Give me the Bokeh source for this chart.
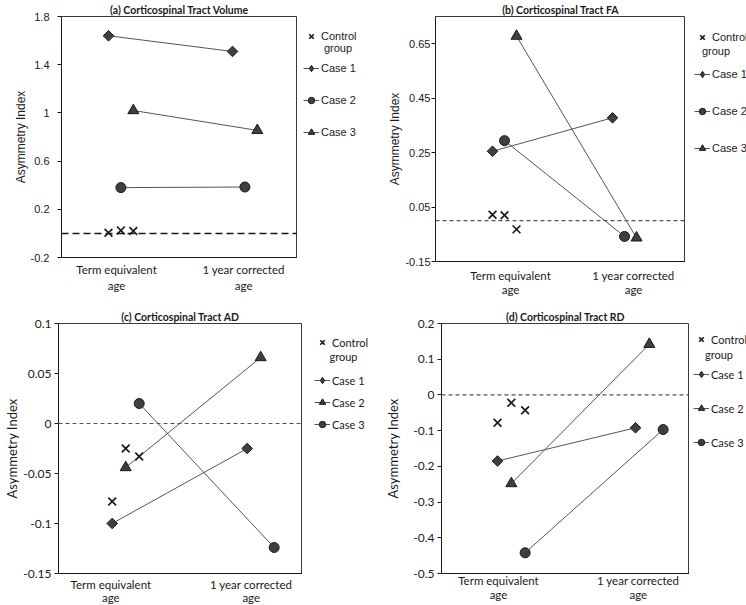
import math
from bokeh.plotting import figure
from bokeh.models import Span, Legend, LegendItem, FixedTicker, Label
from bokeh.layouts import column, row
from bokeh.embed import file_html
from bokeh.resources import INLINE

# ---------------- data ----------------
timepoint_labels = ["Term equivalent\nage", "1 year corrected\nage"]
case_names = ["Case 1", "Case 2", "Case 3"]
control_label = "Control"
control_label_2 = "group"
case1_x = [1.0, 2.0]
case2_x = [1.1, 2.1]
case3_x = [1.2, 2.2]
control_x = [1.0, 1.1, 1.2]

# (a) Volume
vol_case1 = [1.64, 1.51]
vol_case2 = [0.38, 0.385]
vol_case3 = [1.02, 0.855]
vol_control = [0.005, 0.025, 0.02]
vol_ticks = [-0.2, 0.2, 0.6, 1.0, 1.4, 1.8]
vol_tick_labels = ["-0.2", "0.2", "0.6", "1", "1.4", "1.8"]

# (b) FA
fa_case1 = [0.255, 0.378]
fa_case2 = [0.294, -0.058]
fa_case3 = [0.678, -0.063]
fa_control = [0.022, 0.02, -0.032]
fa_ticks = [-0.15, 0.05, 0.25, 0.45, 0.65]
fa_tick_labels = ["-0.15", "0.05", "0.25", "0.45", "0.65"]

# (c) AD
ad_case1 = [-0.100, -0.025]
ad_case2 = [-0.044, 0.066]
ad_case3 = [0.020, -0.124]
ad_control = [-0.078, -0.025, -0.033]
ad_ticks = [-0.15, -0.1, -0.05, 0.0, 0.05, 0.1]
ad_tick_labels = ["-0.15", "-0.1", "-0.05", "0", "0.05", "0.1"]

# (d) RD
rd_case1 = [-0.185, -0.092]
rd_case2 = [-0.248, 0.142]
rd_case3 = [-0.442, -0.097]
rd_control = [-0.078, -0.022, -0.043]
rd_ticks = [-0.5, -0.4, -0.3, -0.2, -0.1, 0.0, 0.1, 0.2]
rd_tick_labels = ["-0.5", "-0.4", "-0.3", "-0.2", "-0.1", "0", "0.1", "0.2"]

# ---------------- styles ----------------
ARIAL = "Liberation Sans"
CALIBRI = "Lato"
TXT = "#1a1a1a"
FILL = "#3f3f3f"
EDGE = "#1a1a1a"
LINK = "#555555"

DIAMOND = dict(marker="square", size=7.5, angle=math.pi / 4, legend_marker="diamond")
CIRCLE = dict(marker="circle", size=10, angle=0.0, legend_marker="circle")
TRIANGLE = dict(marker="triangle", size=11, angle=0.0, legend_marker="triangle")
CROSS = dict(marker="x", size=11, line_width=1.7)
GLYPH = 16  # legend glyph box


def draw_series(p, cases, markers, ctrl, swatch=False):
    out = []
    for (xs, ys), mk in zip(cases, markers):
        ln = p.line(xs, ys, line_color=LINK, line_width=1)
        sc = p.scatter(xs, ys, marker=mk["legend_marker"] if swatch else mk["marker"],
                       size=mk["size"], angle=0.0 if swatch else mk["angle"],
                       fill_color=FILL, line_color=EDGE, line_width=1)
        out.append((ln, sc))
    cx = p.scatter(control_x, ctrl, marker=CROSS["marker"], size=CROSS["size"],
                   line_color=EDGE, line_width=CROSS["line_width"])
    return out, cx


def build(title, cases, markers, ctrl, yr, yticks, ylabels, xr, xticks, g):
    p = figure(frame_width=g["fw"], frame_height=g["fh"], x_range=xr, y_range=yr,
               output_backend="svg", toolbar_location=None,
               min_border_left=g["bl"], min_border_right=0,
               min_border_top=g["bt"], min_border_bottom=g["bb"])
    p.title.text = title
    p.title.align = "center"
    p.title.text_font = CALIBRI
    p.title.text_font_style = "bold"
    p.title.text_font_size = "10.5px"
    p.title.text_color = TXT
    p.title.standoff = 1
    p.outline_line_color = "#3a3a3a"
    p.outline_line_width = 1
    p.xgrid.visible = False
    p.ygrid.visible = False

    yax = p.yaxis[0]
    yax.ticker = FixedTicker(ticks=yticks)
    yax.major_label_overrides = {t: l for t, l in zip(yticks, ylabels)}
    yax.minor_tick_line_color = None
    yax.major_tick_in = 0
    yax.major_tick_out = 4
    yax.major_tick_line_color = "#1a1a1a"
    yax.axis_line_color = "#1a1a1a"
    yax.major_label_text_font = g["yfont"]
    yax.major_label_text_font_size = g["yfs"]
    yax.major_label_text_color = TXT
    yax.major_label_standoff = g["ystand"]
    yax.axis_label = "Asymmetry Index"
    yax.axis_label_text_font = g["yfont"]
    yax.axis_label_text_font_style = "normal"
    yax.axis_label_text_font_size = g["alfs"]
    yax.axis_label_text_color = TXT
    yax.axis_label_standoff = g["alstand"]

    xax = p.xaxis[0]
    xax.ticker = FixedTicker(ticks=xticks)
    xax.major_label_overrides = {t: l for t, l in zip(xticks, timepoint_labels)}
    xax.minor_tick_line_color = None
    xax.major_tick_line_color = None
    xax.major_tick_out = 0
    xax.major_tick_in = 0
    xax.axis_line_color = "#1a1a1a"
    xax.major_label_text_font = CALIBRI
    xax.major_label_text_font_size = "11.5px"
    xax.major_label_text_line_height = g["xlh"]
    xax.major_label_text_color = TXT
    xax.major_label_standoff = g["xstand"]

    p.add_layout(Span(location=0, dimension="width", line_color=g["dash_c"],
                      line_width=g["dash_w"], line_dash=g["dash"]))
    draw_series(p, cases, markers, ctrl)
    return p


def build_legend(cases, markers, ctrl, g):
    # legend-only strip to the right of each chart; its x range lies beyond the
    # data so the series drawn here only serve as legend swatches
    W, H = g["lw"], g["fh"]
    OFF = 10
    lf = figure(frame_width=W, frame_height=H, x_range=(OFF, OFF + W), y_range=(0, H),
                output_backend="svg", toolbar_location=None,
                x_axis_location=None, y_axis_location=None,
                min_border_left=0, min_border_right=0,
                min_border_top=g["bt"], min_border_bottom=g["bb"])
    lf.outline_line_color = None
    lf.grid.visible = False

    rends, cx = draw_series(lf, cases, markers, ctrl, swatch=True)
    items = [LegendItem(label=name, renderers=[ln, sc]) for (ln, sc), name in zip(rends, case_names)]

    fs = g["lfs"]
    common = dict(padding=0, margin=0, glyph_width=GLYPH, glyph_height=GLYPH, label_height=GLYPH,
                  label_standoff=2, border_line_alpha=0, background_fill_alpha=0,
                  label_text_font=g["lfont"], label_text_font_size=fs, label_text_color=TXT)
    lx = g["lx"]
    half = GLYPH / 2
    ctrl_leg = Legend(items=[LegendItem(label=control_label, renderers=[cx])],
                      location=(lx, int(round(H - (g["ctop"] - half) - GLYPH))), **common)
    s = int(round(g["pitch"] - GLYPH))
    case_leg = Legend(items=items, spacing=s,
                      location=(lx, int(round(H - (g["ltop"] - half) - (3 * GLYPH + 2 * s)))), **common)
    lf.add_layout(ctrl_leg)
    lf.add_layout(case_leg)
    lf.add_layout(Label(x=OFF + g["gx"], y=H - g["gtop"], text=control_label_2,
                        text_align="center", text_baseline="middle",
                        text_font=g["lfont"], text_font_size=fs, text_color=TXT))
    return lf


ga = dict(fw=236, fh=241, bl=61, bt=16, bb=43, xstand=5, xlh=1.3,
          yfont=ARIAL, yfs="11px", ystand=8, alfs="12px", alstand=0,
          dash_c="#1a1a1a", dash_w=1.5, dash="7 4",
          lw=76, lfont=ARIAL, lfs="11px", lx=6, ctop=20, gx=40.5, gtop=31, ltop=52, pitch=32.5)
gb = dict(fw=250, fh=245, bl=62, bt=16, bb=39, xstand=7, xlh=1.15,
          yfont=ARIAL, yfs="11px", ystand=1, alfs="12px", alstand=0,
          dash_c="#555555", dash_w=1.2, dash="4 3",
          lw=61, lfont=ARIAL, lfs="11px", lx=9, ctop=21, gx=30.5, gtop=34, ltop=58, pitch=37)
gc = dict(fw=244, fh=250, bl=58, bt=23, bb=32, xstand=4, xlh=1.0,
          yfont=CALIBRI, yfs="12px", ystand=3, alfs="13px", alstand=0,
          dash_c="#555555", dash_w=1.2, dash="4 3",
          lw=71, lfont=CALIBRI, lfs="11px", lx=12, ctop=19, gx=41, gtop=33, ltop=57, pitch=21.7)
gd = dict(fw=248, fh=250, bl=68, bt=21, bb=34, xstand=0, xlh=1.1,
          yfont=CALIBRI, yfs="12px", ystand=3, alfs="13px", alstand=9,
          dash_c="#555555", dash_w=1.2, dash="4 3",
          lw=57, lfont=CALIBRI, lfs="11px", lx=4, ctop=16, gx=29.5, gtop=31, ltop=51, pitch=34.2)

mk_ab = [DIAMOND, CIRCLE, TRIANGLE]
mk_cd = [DIAMOND, TRIANGLE, CIRCLE]

vol_cases = [(case1_x, vol_case1), (case2_x, vol_case2), (case3_x, vol_case3)]
fa_cases = [(case1_x, fa_case1), (case2_x, fa_case2), (case3_x, fa_case3)]
ad_cases = [(case1_x, ad_case1), (case2_x, ad_case2), (case3_x, ad_case3)]
rd_cases = [(case1_x, rd_case1), (case2_x, rd_case2), (case3_x, rd_case3)]

pa = build("(a) Corticospinal Tract Volume", vol_cases, mk_ab, vol_control,
           (-0.2, 1.8), vol_ticks, vol_tick_labels, (0.621, 2.524), [1.065, 2.09], ga)
pb = build("(b) Corticospinal Tract FA", fa_cases, mk_ab, fa_control,
           (-0.15, 0.75), fa_ticks, fa_tick_labels, (0.525, 2.608), [1.15, 2.175], gb)
pc = build("(c) Corticospinal Tract AD", ad_cases, mk_cd, ad_control,
           (-0.15, 0.1), ad_ticks, ad_tick_labels, (0.602, 2.41), [0.99, 2.03], gc)
pd_ = build("(d) Corticospinal Tract RD", rd_cases, mk_cd, rd_control,
            (-0.5, 0.2), rd_ticks, rd_tick_labels, (0.594, 2.391), [1.007, 2.02], gd)

la = build_legend(vol_cases, mk_ab, vol_control, ga)
lb = build_legend(fa_cases, mk_ab, fa_control, gb)
lc = build_legend(ad_cases, mk_cd, ad_control, gc)
ld = build_legend(rd_cases, mk_cd, rd_control, gd)

layout = column(row(pa, la, pb, lb), row(pc, lc, pd_, ld))
open("out.html", "w").write(file_html(layout, INLINE))
